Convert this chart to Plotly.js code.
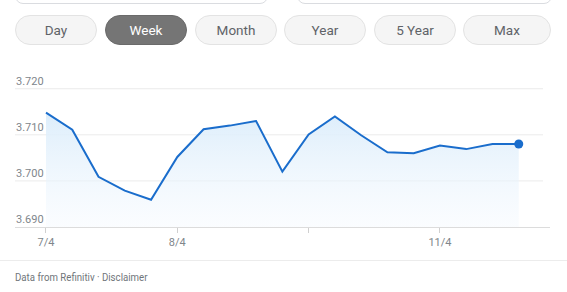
<!DOCTYPE html>
<html>
<head>
<meta charset="utf-8">
<script src="https://cdn.plot.ly/plotly-3.0.1.min.js"></script>
<style>
  html, body { margin:0; padding:0; width:567px; height:292px; overflow:hidden; background:#fff; font-family: Roboto, Arial, sans-serif; }
  #chart { position:absolute; left:0; top:0; width:567px; height:292px; }
  .box { position:absolute; top:-30px; height:32px; border:1px solid #dadce0; border-radius:8px; background:#fff; }
  .btn { position:absolute; top:15px; height:28px; border:1px solid #e3e3e3; border-radius:15px; background:#f5f5f5; color:#5f6368; font-size:13.5px; line-height:28px; text-align:center; box-sizing:content-box; }
  .btn.sel { background:#757575; border-color:#6a6a6a; color:#fff; }
  #sep { position:absolute; left:0; top:260px; width:567px; height:1px; background:#ececec; }
  #foot { position:absolute; left:15px; top:270px; font-size:11.5px; color:#70757a; transform:scaleX(0.84); transform-origin:0 0; white-space:nowrap; }
</style>
</head>
<body>
<div id="chart"></div>
<div class="box" style="left:15px;width:251px;"></div>
<div class="box" style="left:297px;width:253px;"></div>
<div id="buttons"></div>
<div id="sep"></div>
<div id="foot">Data from Refinitiv · Disclaimer</div>
<script>
// Data
const pointIndex = [0,1,2,3,4,5,6,7,8,9,10,11,12,13,14,15,16,17,18];
const values = [3.7148,3.7111,3.7009,3.6979,3.6959,3.7052,3.7112,3.7120,3.7130,3.7020,3.7101,3.7140,3.7099,3.7062,3.7060,3.7077,3.7069,3.7080,3.7080];
const xTickVals = [0,5,10,15];
const xTickText = ["7/4","8/4","","11/4"];
const yTickVals = [3.690,3.700,3.710,3.720];
const yTickText = ["3.690","3.700","3.710","3.720"];
const rangeLabels = ["Day","Week","Month","Year","5 Year","Max"];
const selectedRange = "Week";

// Buttons
const btnLefts = [15,105,195,284,374,463];
const btnWidths = [80,80,80,80,80,86];
const bc = document.getElementById('buttons');
rangeLabels.forEach((t,i)=>{
  const d = document.createElement('div');
  d.className = 'btn' + (t===selectedRange ? ' sel' : '');
  d.style.left = btnLefts[i]+'px';
  d.style.width = btnWidths[i]+'px';
  d.textContent = t;
  bc.appendChild(d);
});

const lastIdx = pointIndex.length-1;
const traces = [
  {
    x: pointIndex, y: values, type:'scatter', mode:'lines',
    line:{color:'#1a6dcc', width:2},
    fill:'tozeroy',
    fillgradient:{type:'vertical', start:3.690, stop:3.714,
      colorscale:[[0,'rgba(240,247,254,0.3)'],[1,'rgba(222,238,251,1)']]},
    hoverinfo:'skip'
  },
  {
    x:[pointIndex[lastIdx]], y:[values[lastIdx]], type:'scatter', mode:'markers',
    marker:{color:'#1a6dcc', size:9}, hoverinfo:'skip'
  }
];

const gridShapes = yTickVals.slice(1).map(v=>({
  type:'line', xref:'paper', yref:'y', x0:0, x1:(543-15)/(550-15), y0:v, y1:v,
  line:{color:'#ebebeb', width:1}, layer:'below'
}));

const layout = {
  width:567, height:292,
  margin:{l:15, r:17, t:68, b:65},
  paper_bgcolor:'rgba(0,0,0,0)', plot_bgcolor:'rgba(0,0,0,0)',
  showlegend:false,
  font:{family:'Roboto, Arial, sans-serif', size:11, color:'#80868b'},
  xaxis:{
    range:[-1.18, 19.19], tickmode:'array', tickvals:xTickVals, ticktext:xTickText,
    showgrid:false, zeroline:false, showline:true, linecolor:'#dcdcdc', linewidth:1,
    ticks:'outside', ticklen:5, tickcolor:'#d0d0d0', tickfont:{size:11, color:'#80868b'},
    fixedrange:true
  },
  yaxis:{
    range:[3.690, 3.7245], tickmode:'array', tickvals:yTickVals, ticktext:yTickText,
    showgrid:false, zeroline:false, showline:false, ticks:'',
    ticklabelposition:'inside top', ticklabelstandoff:-2, tickfont:{size:11, color:'#80868b'},
    fixedrange:true
  },
  shapes: gridShapes
};
Plotly.newPlot('chart', traces, layout, {displayModeBar:false, staticPlot:true});
</script>
</body>
</html>
